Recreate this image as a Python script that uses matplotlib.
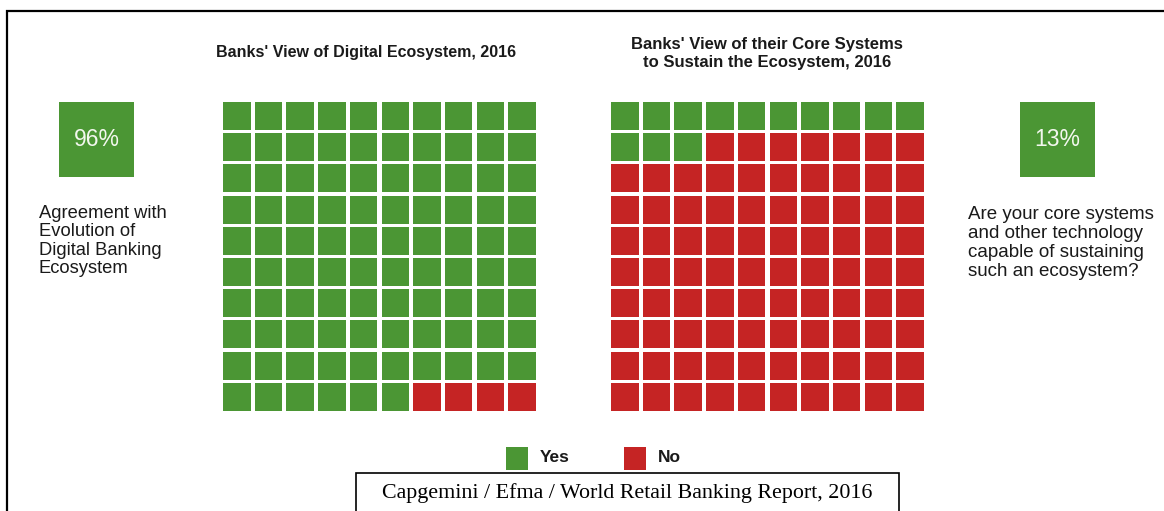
import matplotlib.pyplot as plt
from matplotlib.patches import Rectangle

plt.rcParams['font.family'] = ['Liberation Sans', 'DejaVu Sans']

# data
categories = ['Yes', 'No']
digital_ecosystem = [96, 4]      # Banks' view of digital ecosystem
core_systems = [13, 87]          # core systems able to sustain it
headline = ['96%', '13%']
side_text = ['Agreement with\nEvolution of\nDigital Banking\nEcosystem',
             'Are your core systems\nand other technology\ncapable of sustaining\nsuch an ecosystem?']
titles = ["Banks' View of Digital Ecosystem, 2016",
          "Banks' View of their Core Systems\nto Sustain the Ecosystem, 2016"]
source = 'Capgemini / Efma / World Retail Banking Report, 2016'

colors = {'Yes': '#4b9634', 'No': '#c52424'}

fig = plt.figure(figsize=(11.64, 5.11), dpi=100)
ax = fig.add_axes([0, 0, 1, 1])
ax.set_xlim(0, 1164)
ax.set_ylim(511, 0)
ax.axis('off')

# outer frame (left and top edges visible)
ax.plot([7, 7, 1170], [520, 11, 11], color='black', lw=1.6, solid_joinstyle='miter')


def waffle(x0, y0, values):
    # 10x10 grid filled row by row from the top left
    cells = []
    for cat, v in zip(categories, values):
        cells += [cat] * v
    for k, cat in enumerate(cells):
        r, c = divmod(k, 10)
        ax.add_patch(Rectangle((x0 + c * 31.7, y0 + r * 31.2), 27.5, 28,
                               facecolor=colors[cat], edgecolor='none'))


waffle(223, 102, digital_ecosystem)
waffle(611, 102, core_systems)

# titles
ax.text(366, 53, titles[0], ha='center', va='center', fontsize=11.5, fontweight='bold', color='#1a1a1a')
ax.text(767, 53, titles[1], ha='center', va='center', fontsize=12, fontweight='bold',
        color='#1a1a1a', linespacing=1.25)

# percentage boxes
for bx, lab in zip([59, 1020], headline):
    ax.add_patch(Rectangle((bx, 102), 75, 75, facecolor=colors['Yes'], edgecolor='none'))
    ax.text(bx + 37.5, 140, lab, ha='center', va='center', fontsize=16.5, color='#f2f7ee')

# side descriptions
ax.text(39, 241, side_text[0], ha='left', va='center', fontsize=13.2, color='#1a1a1a', linespacing=1.08)
ax.text(968, 243, side_text[1], ha='left', va='center', fontsize=13.5, color='#1a1a1a', linespacing=1.17)

# legend
for sx, cat in zip([506, 624], categories):
    ax.add_patch(Rectangle((sx, 447), 22, 23, facecolor=colors[cat], edgecolor='none'))
    ax.text(sx + 34, 458, cat, ha='left', va='center', fontsize=12.5, fontweight='bold', color='#1a1a1a')

# source box
ax.add_patch(Rectangle((356, 473), 543, 60, facecolor='white', edgecolor='black', lw=1.2))
ax.text(627, 493, source, ha='center', va='center', fontsize=15.8, family='Liberation Serif', color='black')

plt.savefig('out.png', dpi=100)
